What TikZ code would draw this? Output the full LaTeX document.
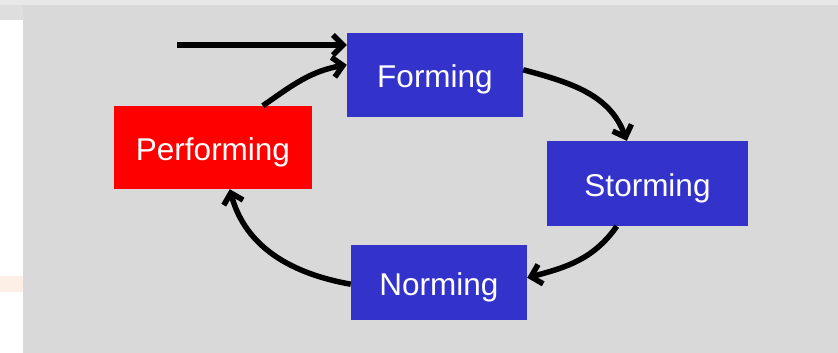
\documentclass[tikz,border=0pt]{standalone}
\usepackage{fontspec}
\setmainfont{Liberation Sans}
\usetikzlibrary{arrows.meta,calc}
\definecolor{panel}{HTML}{D9D9D9}
\definecolor{strip}{HTML}{E8E8E8}
\definecolor{corner}{HTML}{DEDEDE}
\definecolor{peach}{HTML}{FDEEE6}
\definecolor{stageblue}{HTML}{3333CC}
\definecolor{stagered}{HTML}{FF0000}
\tikzset{
  stagebox/.style={draw=none, fill=stageblue, text=white, inner sep=0pt,
    text height=25.4pt, text depth=0pt,
    font=\fontsize{31.5}{36}\selectfont},
  cyclearrow/.style={line width=5.5pt, -{Straight Barb[length=10pt,width=20pt]}}
}
\begin{document}
\begin{tikzpicture}[x=1pt,y=1pt]
  % page frame
  \useasboundingbox (0,0) rectangle (838,353);
  \fill[white] (0,0) rectangle (838,353);
  \fill[strip] (0,348) rectangle (838,353);
  \fill[corner] (0,333) rectangle (23,348);
  \fill[peach] (0,61) rectangle (23,77);
  \fill[panel] (23,0) rectangle (838,348);

  % the four stages
  \node[stagebox, minimum width=176pt, minimum height=84pt] (forming) at (435,278) {Forming};
  \node[stagebox, minimum width=201pt, minimum height=85pt] (storming) at (647.5,169.5) {Storming};
  \node[stagebox, minimum width=176pt, minimum height=75pt] (norming) at (439,70.5) {Norming};
  \node[stagebox, fill=stagered, minimum width=198pt, minimum height=83pt] (performing) at (213,205.5) {Performing};

  % entry arrow
  \coordinate (entry) at (177,308);
  \draw[cyclearrow] (entry) -- (entry -| forming.west);

  % cycle
  \draw[cyclearrow] ($(performing.north west)+(149,0)$) to[out=35,in=190] ($(forming.north west)+(0,-32)$);
  \draw[cyclearrow] ($(forming.north east)+(0,-37)$) to[out=-15,in=110] ($(storming.north west)+(80,0)$);
  \draw[cyclearrow] ($(storming.south west)+(70,0)$) to[out=-125,in=15] ($(norming.north east)+(0,-33)$);
  \draw[cyclearrow] ($(norming.south west)+(0,36)$) to[out=170,in=-75] ($(performing.south west)+(116,0)$);
\end{tikzpicture}
\end{document}
